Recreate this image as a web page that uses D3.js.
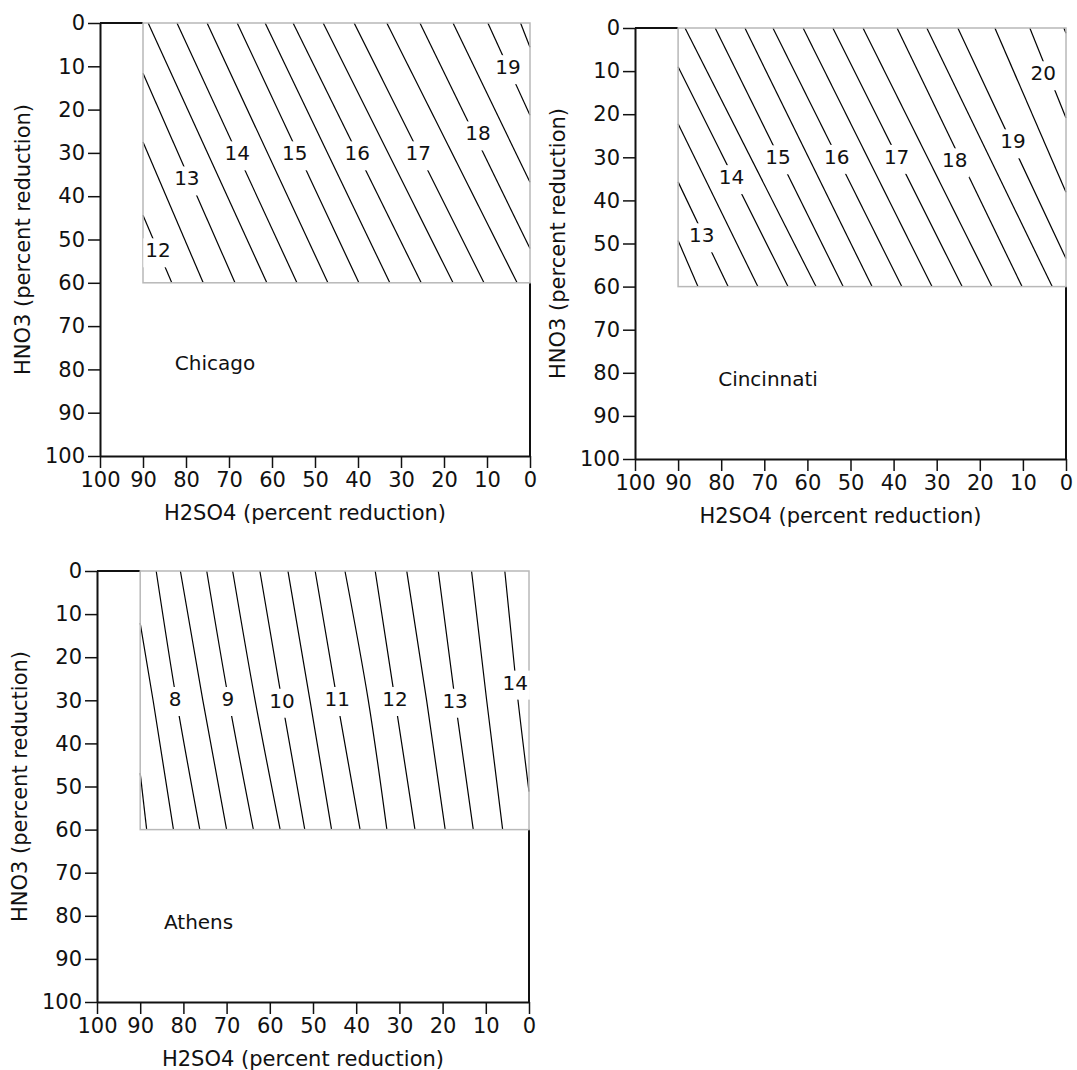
<!DOCTYPE html>
<html>
<head>
<meta charset="utf-8">
<script src="https://cdn.jsdelivr.net/npm/d3@7"></script>
<style>
  body { margin: 0; background: #fff; }
  text { font-family: "DejaVu Sans", sans-serif; fill: #111; }
</style>
</head>
<body>
<div id="chart-area"></div>
<script>
// tick values shared by all three panels
const xTicks = [100, 90, 80, 70, 60, 50, 40, 30, 20, 10, 0]
const yTicks = [0, 10, 20, 30, 40, 50, 60, 70, 80, 90, 100]
// modelled region: H2SO4 90..0, HNO3 0..60
const regionH2SO4 = [90, 0]
const regionHNO3 = [0, 60]

// contour lines as [H2SO4, HNO3] points
const chicagoLevels = [12, 12.5, 13, 13.5, 14, 14.5, 15, 15.5, 16, 16.5, 17, 17.5, 18, 18.5, 19, 19.5]
const chicagoLines = [
  [[90, 44.4], [83.3, 60]],
  [[90, 27.5], [76.0, 60]],
  [[90, 11.6], [68.6, 60]],
  [[88.8, 0], [61.2, 60]],
  [[82.1, 0], [54.2, 60]],
  [[75.1, 0], [47.0, 60]],
  [[68.1, 0], [39.8, 60]],
  [[61.6, 0], [32.6, 60]],
  [[55.1, 0], [25.3, 60]],
  [[48.1, 0], [17.9, 60]],
  [[40.9, 0], [10.7, 60]],
  [[33.3, 0], [3.0, 60]],
  [[25.6, 0], [0, 52.1]],
  [[17.9, 0], [0, 36.8]],
  [[9.8, 0], [0, 21.3]],
  [[2.2, 0], [0, 5.6]]
]
// [label, H2SO4, HNO3]
const chicagoLabels = [
  [12, 86.5, 52.5], [13, 79.8, 35.9], [14, 68.1, 30.1], [15, 54.7, 30.1],
  [16, 40.2, 30.1], [17, 26.0, 30.1], [18, 12.1, 25.5], [19, 5.1, 10.2]
]

const cincinnatiLevels = [12.5, 13, 13.5, 14, 14.5, 15, 15.5, 16, 16.5, 17, 17.5, 18, 18.5, 19, 19.5, 20, 20.5]
const cincinnatiLines = [
  [[90, 49.3], [85.4, 60]],
  [[90, 35.7], [78.4, 60]],
  [[90, 22.2], [71.5, 60]],
  [[90, 9.0], [64.5, 60]],
  [[88.4, 0], [58.0, 60]],
  [[81.4, 0], [51.7, 60]],
  [[74.5, 0], [45.0, 60]],
  [[68.0, 0], [38.1, 60]],
  [[61.0, 0], [31.1, 60]],
  [[54.1, 0], [24.1, 60]],
  [[47.1, 0], [17.2, 60]],
  [[39.2, 0], [10.2, 60]],
  [[32.3, 0], [3.2, 60]],
  [[25.1, 0], [0, 53.5]],
  [[16.5, 0], [0, 38.1]],
  [[8.4, 0], [0, 20.9]],
  [[0.5, 0], [0, 1.2]]
]
const cincinnatiLabels = [
  [13, 84.5, 48.1], [14, 77.6, 34.6], [15, 66.8, 30.0], [16, 53.2, 29.9],
  [17, 39.3, 29.9], [18, 25.8, 30.7], [19, 12.3, 26.3], [20, 5.3, 10.5]
]

const athensLevels = [7, 7.5, 8, 8.5, 9, 9.5, 10, 10.5, 11, 11.5, 12, 12.5, 13, 13.5, 14]
const athensLines = [
  [[90, 46.9], [88.5, 60]],
  [[90, 12.1], [87.0, 30.1], [82.3, 60]],
  [[86.3, 0], [81.6, 30], [76.2, 60]],
  [[80.7, 0], [75.5, 30], [70.0, 60]],
  [[74.6, 0], [69.5, 30], [63.8, 60]],
  [[68.6, 0], [63.4, 30], [57.6, 60]],
  [[62.3, 0], [57.2, 30], [51.9, 60]],
  [[55.8, 0], [50.7, 30], [45.7, 60]],
  [[49.5, 0], [44.4, 30], [39.1, 60]],
  [[42.6, 0], [37.2, 30], [32.9, 60]],
  [[35.6, 0], [31.0, 30], [26.4, 60]],
  [[28.3, 0], [23.7, 30], [19.4, 60]],
  [[21.0, 0], [17.1, 30], [12.9, 60]],
  [[13.3, 0], [9.8, 30], [6.1, 60]],
  [[5.6, 0], [3.0, 26], [0, 51.2]]
]
const athensLabels = [
  [8, 81.9, 29.7], [9, 69.7, 29.7], [10, 57.2, 30.1], [11, 44.4, 29.7],
  [12, 31.0, 29.7], [13, 17.1, 30.1], [14, 3.2, 25.9]
]

// city name position [H2SO4, HNO3]
const cityNames = ["Chicago", "Cincinnati", "Athens"]
const cityPos = [[82.6, 78.5], [80.7, 81.4], [84.5, 81.5]]

const X_TITLE = "H2SO4 (percent reduction)"
const Y_TITLE = "HNO3 (percent reduction)"

// where each panel sits on the page
const PANELS = [
  { left: 100, top: 23, w: 430, h: 433, lines: chicagoLines, labels: chicagoLabels },
  { left: 635, top: 28, w: 431, h: 431, lines: cincinnatiLines, labels: cincinnatiLabels },
  { left: 97, top: 571, w: 432, h: 431, lines: athensLines, labels: athensLabels }
]

const svg = d3.select("#chart-area")
  .append("svg")
    .attr("width", 1077)
    .attr("height", 1070)

PANELS.forEach((p, i) => {
  const x = d3.scaleLinear().domain([100, 0]).range([p.left, p.left + p.w])
  const y = d3.scaleLinear().domain([0, 100]).range([p.top, p.top + p.h])
  const g = svg.append("g")

  // black parts of the frame outside the region box
  g.append("line")
    .attr("x1", x(100)).attr("x2", x(regionH2SO4[0]))
    .attr("y1", y(0)).attr("y2", y(0))
    .attr("stroke", "#111").attr("stroke-width", 2)
  g.append("line")
    .attr("x1", x(0)).attr("x2", x(0))
    .attr("y1", y(regionHNO3[1])).attr("y2", y(100))
    .attr("stroke", "#111").attr("stroke-width", 2)

  // axes
  const xAxis = g.append("g")
    .attr("transform", `translate(0, ${y(100)})`)
    .call(d3.axisBottom(x).tickValues(xTicks).tickSize(12).tickPadding(4).tickSizeOuter(0).tickFormat(d3.format("d")))
  const yAxis = g.append("g")
    .attr("transform", `translate(${x(100)}, 0)`)
    .call(d3.axisLeft(y).tickValues(yTicks).tickSize(12).tickPadding(3).tickSizeOuter(0).tickFormat(d3.format("d")))
  ;[xAxis, yAxis].forEach(a => {
    a.attr("font-family", null).attr("font-size", null)
    a.select(".domain").attr("stroke", "#111").attr("stroke-width", 2)
    a.selectAll(".tick line").attr("stroke", "#111").attr("stroke-width", 1.5)
    a.selectAll(".tick text").attr("font-size", "21px").attr("fill", "#111")
  })

  // contour lines
  const line = d3.line()
    .x(d => x(d[0]))
    .y(d => y(d[1]))
    .curve(d3.curveNatural)
  g.selectAll("path.contour")
    .data(p.lines)
    .join("path")
      .attr("class", "contour")
      .attr("d", line)
      .attr("fill", "none")
      .attr("stroke", "#000")
      .attr("stroke-width", 1.2)

  // contour labels, each with a white patch that breaks its line
  const lab = g.append("g")
  p.labels.forEach(d => {
    const t = lab.append("text")
      .attr("x", x(d[1]))
      .attr("y", y(d[2]))
      .attr("text-anchor", "middle")
      .attr("dominant-baseline", "central")
      .attr("font-size", "20px")
      .text(d[0])
    const b = t.node().getBBox()
    lab.insert("rect", "text")
      .attr("x", b.x - 2)
      .attr("y", b.y)
      .attr("width", b.width + 4)
      .attr("height", b.height + 5)
      .attr("fill", "#fff")
  })

  // region box in grey
  g.append("rect")
    .attr("x", x(regionH2SO4[0]))
    .attr("y", y(regionHNO3[0]))
    .attr("width", x(regionH2SO4[1]) - x(regionH2SO4[0]))
    .attr("height", y(regionHNO3[1]) - y(regionHNO3[0]))
    .attr("fill", "none")
    .attr("stroke", "#b8b8b8")
    .attr("stroke-width", 1.5)
  lab.raise()

  // city name
  g.append("text")
    .attr("x", x(cityPos[i][0]))
    .attr("y", y(cityPos[i][1]))
    .attr("dominant-baseline", "central")
    .attr("font-size", "20px")
    .text(cityNames[i])

  // axis titles
  g.append("text")
    .attr("x", (x(100) + x(0)) / 2 - 10)
    .attr("y", y(100) + 57)
    .attr("text-anchor", "middle")
    .attr("dominant-baseline", "central")
    .attr("font-size", "21px")
    .text(X_TITLE)
  g.append("text")
    .attr("transform", `translate(${x(100) - 77}, ${(y(0) + y(100)) / 2}) rotate(-90)`)
    .attr("text-anchor", "middle")
    .attr("dominant-baseline", "central")
    .attr("font-size", "21px")
    .text(Y_TITLE)
})
</script>
</body>
</html>
